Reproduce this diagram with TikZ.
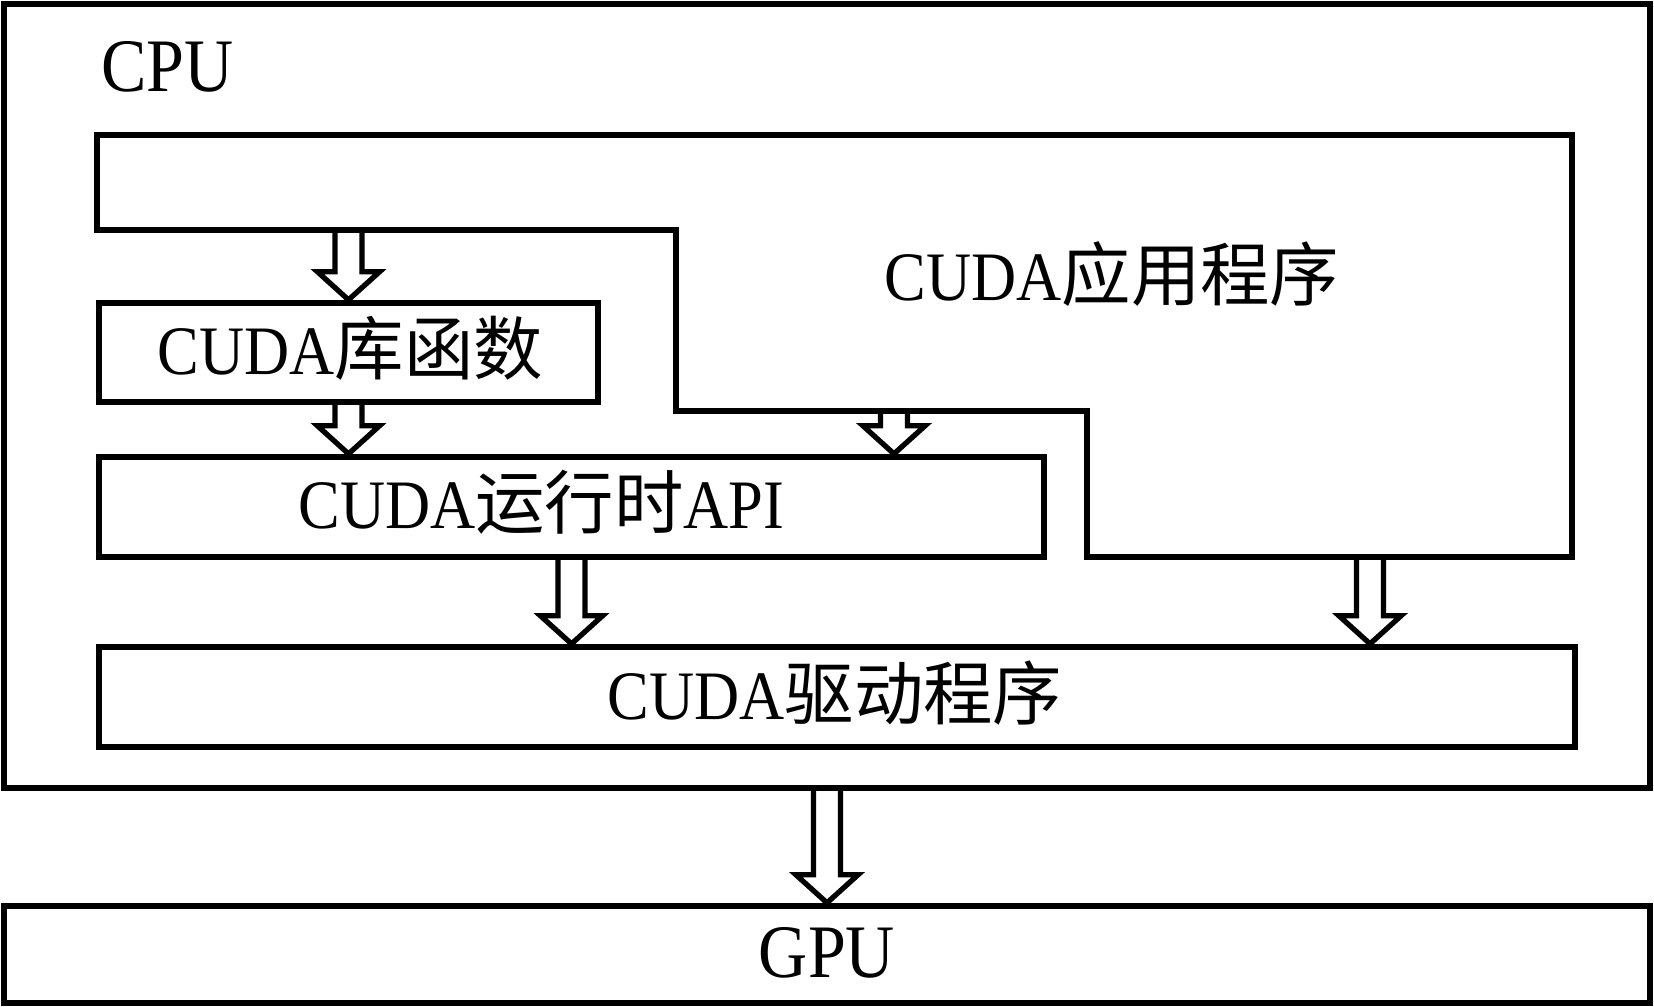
\documentclass[tikz,border=0pt]{standalone}
\usepackage{fontspec}
\setmainfont{Liberation Serif}[FakeStretch=0.9]
\newfontfamily\cjk{Noto Sans CJK SC}
\usepackage{tikz}
\usetikzlibrary{
  calc,
  fit
}
\newcommand{\labelfont}{\fontsize{39.5pt}{46pt}\selectfont}
\newcommand{\unitfont}{\fontsize{43pt}{50pt}\selectfont}
\tikzset{
  box/.style={draw=black,line width=3.6pt,inner sep=0pt},
  txt/.style={inner sep=0pt,font=\labelfont},
  flowline/.style={draw=black,line width=3pt,line join=miter}
}
\newcommand{\hollowarrow}[2]{%
  \draw[flowline] ($(#1)+(-13.5,0)$) -- ($(#2)+(-13.5,-28)$) -- ($(#2)+(-31,-28)$)
    -- (#2) -- ($(#2)+(31,-28)$) -- ($(#2)+(13.5,-28)$) -- ($(#1)+(13.5,0)$);%
}

\begin{document}
\begin{tikzpicture}[x=0.02cm,y=-0.02cm]
  \useasboundingbox (0,0) rectangle (1654,1007);
  % host side
  \node[box,fit={(4,4) (1650,788)}] (cpu) {};
  \node[txt,font=\unitfont,anchor=west] (cpulbl) at (101,67) {CPU};
  \draw[line width=3.6pt] (97,135) -- (1572,135) -- (1572,557) -- (1087,557)
    -- (1087,411) -- (676,411) -- (676,230) -- (97,230) -- cycle;
  \node[txt] (app) at (1112,274) {CUDA{\cjk 应用程序}};
  \node[box,fit={(99,303) (598,402)}] (lib) {};
  \node[txt] (libtxt) at ($(lib.center)+(2,-4)$) {CUDA{\cjk 库函数}};
  \node[box,fit={(99,457) (1044,557)}] (rt) {};
  \node[txt] (rttxt) at ($(rt.center)+(-30,-5)$) {CUDA{\cjk 运行时}API};
  \node[box,fit={(99,647) (1575,747)}] (drv) {};
  \node[txt] (drvtxt) at ($(drv.center)+(-2,-4)$) {CUDA{\cjk 驱动程序}};
  % device
  \node[box,fit={(4,906) (1650,1003)}] (gpu) {};
  \node[txt,font=\unitfont] (gputxt) at ($(gpu.center)+(0,-2)$) {GPU};

  \coordinate (appA) at (348.5,230);
  \coordinate (appB) at (894,411);
  \coordinate (appC) at (1370,557);
  \coordinate (rtA) at (lib.south |- rt.north);
  \coordinate (rtB) at (appB |- rt.north);
  \coordinate (drvA) at (rt.south |- drv.north);
  \coordinate (drvB) at (appC |- drv.north);
  \coordinate (gpuA) at (cpu.south |- gpu.north);

  \hollowarrow{appA}{lib.north}
  \hollowarrow{lib.south}{rtA}
  \hollowarrow{appB}{rtB}
  \hollowarrow{rt.south}{drvA}
  \hollowarrow{appC}{drvB}
  \hollowarrow{cpu.south}{gpuA}
\end{tikzpicture}
\end{document}
